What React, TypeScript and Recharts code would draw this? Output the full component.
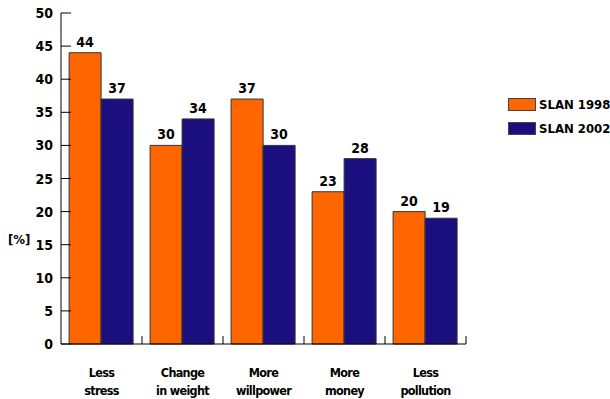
import React from 'react';
import { BarChart, Bar, XAxis, YAxis, LabelList } from 'recharts';

const categories = [
  ['Less', 'stress'],
  ['Change', 'in weight'],
  ['More', 'willpower'],
  ['More', 'money'],
  ['Less', 'pollution'],
];
const slan1998 = [44, 30, 37, 23, 20];
const slan2002 = [37, 34, 30, 28, 19];
const yTicks = [0, 5, 10, 15, 20, 25, 30, 35, 40, 45, 50];

const ORANGE = '#ff6600';
const NAVY = '#1b0f80';
const FONT = '"DejaVu Sans Condensed", "Liberation Sans", Arial, sans-serif';

const data = categories.map((c, i) => ({
  name: c.join(' '),
  s1998: slan1998[i],
  s2002: slan2002[i],
}));

// width of one category band on the x axis
const BAND = 81;

const YTick = (props: any) => {
  const { x, y, payload } = props;
  return (
    <g>
      <line x1={x} x2={x + 10} y1={y} y2={y} stroke="#000" strokeWidth={1} />
      <text x={x - 8} y={y + 5} textAnchor="end" fontFamily={FONT} fontWeight="bold" fontSize={14} fill="#000">
        {payload.value}
      </text>
    </g>
  );
};

const XTick = (props: any) => {
  const { x, y, payload, index } = props;
  const lines = categories[index] ?? [payload.value];
  return (
    <g>
      <line x1={x + BAND / 2} x2={x + BAND / 2} y1={y} y2={y - 8} stroke="#000" strokeWidth={1} />
      {lines.map((t, i) => (
        <text
          key={i}
          x={x}
          y={y + 33 + i * 18}
          textAnchor="middle"
          fontFamily={FONT}
          fontWeight="bold"
          fontSize={12.5}
          letterSpacing={-0.7}
          fill="#000"
        >
          {t}
        </text>
      ))}
    </g>
  );
};

const legendItems = [
  { label: 'SLAN 1998', color: ORANGE },
  { label: 'SLAN 2002', color: NAVY },
];

export default function App() {
  return (
    <div style={{ position: 'absolute', left: 0, top: 0, width: 610, height: 399, background: '#fff' }}>
      <BarChart
        width={610}
        height={399}
        data={data}
        margin={{ top: 13, right: 144, left: 0, bottom: 0 }}
        barCategoryGap="10%"
        barGap={0}
      >
        <YAxis
          width={61}
          domain={[0, 50]}
          ticks={yTicks}
          interval={0}
          tickSize={0}
          tickMargin={0}
          tick={<YTick />}
          axisLine={{ stroke: '#000' }}
        />
        <XAxis
          dataKey="name"
          height={55}
          interval={0}
          tickSize={0}
          tickMargin={0}
          tick={<XTick />}
          axisLine={{ stroke: '#000' }}
        />
        <Bar dataKey="s1998" fill={ORANGE} stroke="#333" strokeWidth={1} isAnimationActive={false}>
          <LabelList dataKey="s1998" position="top" offset={6} fontFamily={FONT} fontWeight="bold" fontSize={14} fill="#000" />
        </Bar>
        <Bar dataKey="s2002" fill={NAVY} stroke="#333" strokeWidth={1} isAnimationActive={false}>
          <LabelList dataKey="s2002" position="top" offset={6} fontFamily={FONT} fontWeight="bold" fontSize={14} fill="#000" />
        </Bar>
      </BarChart>
      <div
        style={{
          position: 'absolute',
          left: 8,
          top: 232,
          fontFamily: FONT,
          fontWeight: 'bold',
          fontSize: 13,
        }}
      >
        [%]
      </div>
      <div
        style={{
          position: 'absolute',
          left: 508,
          top: 92,
          fontFamily: FONT,
          fontWeight: 'bold',
          fontSize: 13,
          whiteSpace: 'nowrap',
        }}
      >
        {legendItems.map((it) => (
          <div key={it.label} style={{ display: 'flex', alignItems: 'center', height: 24 }}>
            <span
              style={{
                display: 'inline-block',
                width: 26,
                height: 11,
                background: it.color,
                border: '1px solid #444',
                marginRight: 3,
              }}
            />
            <span>{it.label}</span>
          </div>
        ))}
      </div>
    </div>
  );
}
